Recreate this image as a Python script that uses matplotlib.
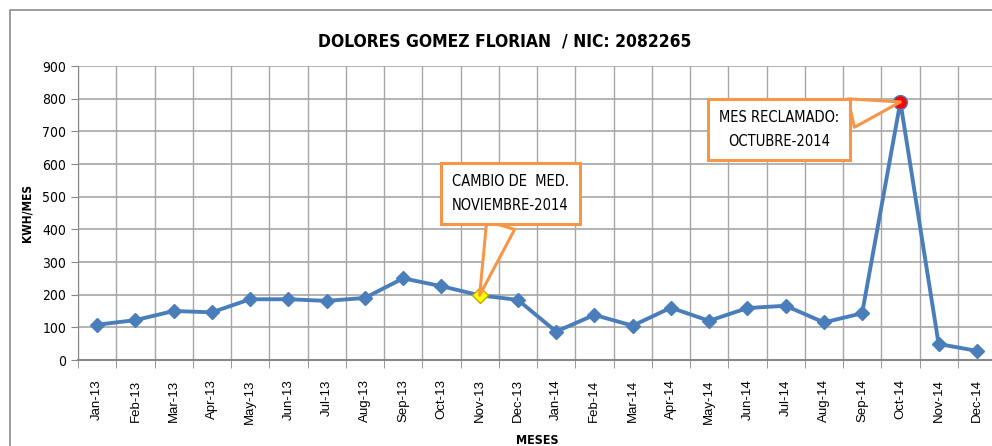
import numpy as np
import matplotlib
matplotlib.use('Agg')
import matplotlib.pyplot as plt
from matplotlib.patches import Rectangle

# datos de consumo mensual
meses = ["Jan-13", "Feb-13", "Mar-13", "Apr-13", "May-13", "Jun-13", "Jul-13", "Aug-13",
         "Sep-13", "Oct-13", "Nov-13", "Dec-13", "Jan-14", "Feb-14", "Mar-14", "Apr-14",
         "May-14", "Jun-14", "Jul-14", "Aug-14", "Sep-14", "Oct-14", "Nov-14", "Dec-14"]
kwh = [108, 122, 150, 146, 186, 186, 181, 190, 250, 226, 198, 184,
       87, 138, 105, 160, 120, 159, 166, 115, 143, 790, 49, 28]
y_ticks = [0, 100, 200, 300, 400, 500, 600, 700, 800, 900]

idx_cambio = meses.index("Nov-13")
idx_reclamo = meses.index("Oct-14")

naranja = '#F79646'
azul = '#4A7EBB'
cond = dict(family='DejaVu Sans', stretch='condensed')

fig = plt.figure(figsize=(9.92, 4.46), dpi=100)
ax = fig.add_axes([78 / 992, 86 / 446, 918 / 992, 294 / 446])

x = np.arange(len(meses))
ax.plot(x, kwh, color=azul, lw=2.8, marker='D', ms=7, mfc=azul, mec=azul, zorder=3)
ax.plot(x[idx_cambio], kwh[idx_cambio], marker='D', ms=8, mfc='#FFFF00', mec='#C9A800', zorder=4)
ax.plot(x[idx_reclamo], kwh[idx_reclamo], marker='o', ms=10, mfc='#FF0000', mec=azul, zorder=4)

ax.set_xlim(-0.5, len(meses) - 0.5)
ax.set_ylim(0, 900)
ax.set_yticks(y_ticks)
ax.set_xticks(x)
ax.set_xticklabels(meses, rotation=90, fontsize=9.5, family='Liberation Sans')
ax.set_xticks(np.arange(len(meses) + 1) - 0.5, minor=True)
ax.tick_params(axis='x', which='major', length=0, pad=14)
ax.tick_params(axis='x', which='minor', length=6, color='#888888', direction='out')
ax.tick_params(axis='y', length=5, color='#888888', labelsize=10)
for lbl in ax.get_yticklabels():
    lbl.set_family('DejaVu Sans')
    lbl.set_stretch('condensed')

ax.grid(True, which='minor', axis='x', color='#A6A6A6', lw=1)
ax.grid(True, which='major', axis='y', color='#A6A6A6', lw=1.2)
ax.set_axisbelow(True)
for lado in ['top', 'right']:
    ax.spines[lado].set_visible(False)
ax.spines['left'].set_color('#888888')
ax.spines['bottom'].set_color('#888888')
ax.spines['bottom'].set_linewidth(1.5)

ax.set_ylabel('KWH/MES', fontsize=8.5, fontweight='bold', labelpad=6, **cond)
ax.set_xlabel('MESES', fontsize=9, fontweight='bold', labelpad=7, **cond)
fig.text(505 / 992, 1 - 42 / 446, 'DOLORES GOMEZ FLORIAN  / NIC: 2082265', ha='center', va='center',
         fontsize=12.5, fontweight='bold', **cond)

# llamadas
caja = dict(boxstyle='square,pad=0.75', fc='white', ec=naranja, lw=2.2)
flecha = dict(arrowstyle='wedge,tail_width=2.0,shrink_factor=0.5', fc='white', ec=naranja, lw=2.2,
              shrinkA=0, shrinkB=0)
ax.annotate('CAMBIO DE  MED.\nNOVIEMBRE-2014', xy=(x[idx_cambio], kwh[idx_cambio]),
            xytext=(10.8, 510), ha='center', va='center', fontsize=10.5,
            linespacing=1.8, bbox=caja, arrowprops=flecha, zorder=5, **cond)
ax.annotate('MES RECLAMADO:\nOCTUBRE-2014', xy=(x[idx_reclamo], kwh[idx_reclamo]),
            xytext=(17.83, 706), ha='center', va='center', fontsize=10.5,
            linespacing=1.8, bbox=caja, arrowprops=flecha, zorder=5, **cond)

# marco exterior
fig.patches.append(Rectangle((10 / 992, -0.05), 1.2, 1 - 10 / 446 + 0.05, transform=fig.transFigure,
                             fill=False, ec='#8C8C8C', lw=1.2))

fig.savefig('out.png', dpi=100)
